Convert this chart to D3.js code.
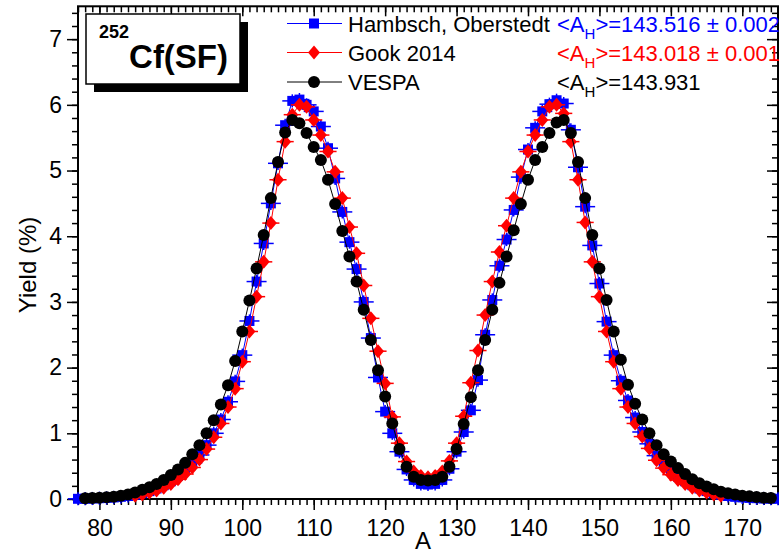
<!DOCTYPE html>
<html><head><meta charset="utf-8">
<script src="https://cdn.jsdelivr.net/npm/d3@7"></script>
<style>
body{margin:0;background:#fff}
svg{display:block}
text{font-family:"Liberation Sans",Arial,Helvetica,sans-serif}
</style>
</head><body>
<svg id="chart" width="779" height="553"></svg>
<script>
// ---------------- data ----------------
const seriesNames = ["Hambsch, Oberstedt", "Gook 2014", "VESPA"];
const meanLabels = ["143.516 \u00b1 0.002", "143.018 \u00b1 0.001", "143.931"];
const xTickLabels = [80, 90, 100, 110, 120, 130, 140, 150, 160, 170];
const yTickLabels = [0, 1, 2, 3, 4, 5, 6, 7];

// mass numbers (A) of each data set
const massHambsch = d3.range(77, 176);
const massGook = d3.range(85, 168);
const massVespa = d3.range(78, 175);

// yields (%)
const yieldHambsch = [
  0.003,0.005,0.008,0.012,0.017,0.024,0.033,0.046,0.064,0.088,   // 77-86
  0.12,0.16,0.21,0.27,0.35,0.44,0.55,0.67,0.82,1.00,              // 87-96
  1.21,1.48,1.79,2.19,2.71,3.31,3.89,4.50,5.11,5.69,              // 97-106
  6.06,6.08,6.00,5.90,5.67,5.34,4.88,4.37,3.91,3.50,              // 107-116
  3.00,2.45,1.85,1.33,1.00,0.72,0.45,0.29,0.23,0.22,              // 117-126
  0.23,0.29,0.46,0.72,1.02,1.35,1.81,2.50,3.03,3.55,              // 127-136
  3.95,4.40,4.90,5.32,5.65,5.90,6.01,6.07,6.02,5.62,              // 137-146
  5.05,4.45,3.86,3.28,2.70,2.19,1.80,1.50,1.24,1.02,              // 147-156
  0.84,0.66,0.54,0.43,0.34,0.27,0.21,0.16,0.12,0.088,             // 157-166
  0.064,0.046,0.033,0.024,0.017,0.012,0.008,0.005,0.003           // 167-175
];
const yieldGook = [
  0.05,0.07,0.10,0.13,0.17,0.23,0.30,0.38,0.48,0.60,              // 85-94
  0.76,0.94,1.15,1.40,1.68,2.09,2.55,3.08,3.61,4.20,              // 95-104
  4.86,5.44,5.85,6.00,5.97,5.77,5.54,5.29,4.98,4.58,              // 105-114
  4.14,3.74,3.25,2.75,2.25,1.76,1.25,0.85,0.57,0.42,              // 115-124
  0.35,0.33,0.35,0.42,0.58,0.85,1.26,1.77,2.26,2.80,              // 125-134
  3.31,3.76,4.16,4.58,4.98,5.29,5.54,5.77,5.97,6.00,              // 135-144
  5.87,5.44,4.86,4.21,3.61,3.08,2.55,2.09,1.68,1.40,              // 145-154
  1.15,0.95,0.77,0.59,0.47,0.37,0.29,0.23,0.17,0.13,              // 155-164
  0.10,0.07,0.05                                                  // 165-167
];
const yieldVespa = [
  0.010,0.015,0.020,0.026,0.035,0.050,0.070,0.100,0.140,0.180,    // 78-87
  0.230,0.290,0.365,0.450,0.550,0.680,0.820,1.000,1.200,1.440,    // 88-97
  1.730,2.100,2.550,3.020,3.510,4.020,4.580,5.130,5.580,5.770,    // 98-107
  5.720,5.570,5.360,5.160,4.860,4.490,4.080,3.690,3.310,2.880,    // 108-117
  2.420,1.960,1.560,1.150,0.760,0.490,0.340,0.290,0.280,0.290,    // 118-127
  0.340,0.490,0.760,1.140,1.550,1.960,2.420,2.880,3.290,3.690,    // 128-137
  4.090,4.490,4.860,5.160,5.360,5.570,5.730,5.770,5.570,5.130,    // 138-147
  4.580,4.020,3.510,3.030,2.550,2.120,1.740,1.450,1.210,1.000,    // 148-157
  0.820,0.680,0.570,0.470,0.380,0.300,0.240,0.190,0.150,0.110,    // 158-167
  0.087,0.070,0.050,0.040,0.030,0.020,0.015                       // 168-174
];
// horizontal / vertical error half-widths
const errHambsch = {dx: 1.4, dy: 0.1};
const errGook = {dx: 1.2, dy: 0.08};

// ---------------- layout ----------------
const svg = d3.select("#chart");
const L = 78, R = 778, T = 6.3, B = 499;
const x = d3.scaleLinear().domain([77, 175]).range([L, R]);
const y = d3.scaleLinear().domain([0, 7.5]).range([B, T]);

const xMinor = d3.range(77, 176);
const yMinor = d3.range(0, 7.5001, 0.2).map(v => +v.toFixed(1));

function styleAxis(g) {
  g.select(".domain").remove();
  g.selectAll(".tick line").attr("stroke", "#000").attr("stroke-width", 1.5);
}
// bottom (outside)
svg.append("g").attr("transform", `translate(0,${B})`)
  .call(d3.axisBottom(x).tickValues(xMinor).tickSize(6).tickFormat("")).call(styleAxis);
svg.append("g").attr("transform", `translate(0,${B})`)
  .call(d3.axisBottom(x).tickValues(xTickLabels).tickSize(11).tickPadding(10).tickFormat(d3.format("d")))
  .call(styleAxis)
  .call(g => g.selectAll("text").attr("font-size", 23).attr("fill", "#000").attr("font-family", "Liberation Sans, Arial, sans-serif"));
// top (inside)
svg.append("g").attr("transform", `translate(0,${T})`)
  .call(d3.axisBottom(x).tickValues(xMinor).tickSize(6).tickFormat("")).call(styleAxis);
svg.append("g").attr("transform", `translate(0,${T})`)
  .call(d3.axisBottom(x).tickValues(xTickLabels).tickSize(10).tickFormat("")).call(styleAxis);
// left (outside)
svg.append("g").attr("transform", `translate(${L},0)`)
  .call(d3.axisLeft(y).tickValues(yMinor).tickSize(6).tickFormat("")).call(styleAxis);
svg.append("g").attr("transform", `translate(${L},0)`)
  .call(d3.axisLeft(y).tickValues(yTickLabels).tickSize(11).tickPadding(5).tickFormat(d3.format("d")))
  .call(styleAxis)
  .call(g => g.selectAll("text").attr("font-size", 23).attr("fill", "#000").attr("font-family", "Liberation Sans, Arial, sans-serif"));
// right (inside)
svg.append("g").attr("transform", `translate(${R},0)`)
  .call(d3.axisLeft(y).tickValues(yMinor).tickSize(6).tickFormat("")).call(styleAxis);
svg.append("g").attr("transform", `translate(${R},0)`)
  .call(d3.axisLeft(y).tickValues(yTickLabels).tickSize(11).tickFormat("")).call(styleAxis);

// frame
svg.append("rect").attr("x", L).attr("y", T).attr("width", R - L).attr("height", B - T)
  .attr("fill", "none").attr("stroke", "#000").attr("stroke-width", 2);

// axis titles
svg.append("text").attr("transform", `translate(36,265) rotate(-90)`)
  .attr("text-anchor", "middle").attr("font-size", 24).text("Yield (%)");
svg.append("text").attr("x", 423).attr("y", 549).attr("text-anchor", "middle")
  .attr("font-size", 24).text("A");

// ---------------- series ----------------
const markerPath = {
  square: "M-5,-5H5V5H-5Z",
  diamond: "M0,-7L6,0L0,7L-6,0Z",
  circle: d3.symbol(d3.symbolCircle, Math.PI * 36)()
};
function drawSeries(masses, yields, color, marker, err) {
  const pts = masses.map((a, i) => ({a, v: yields[i]}));
  const g = svg.append("g");
  g.append("path").datum(pts)
    .attr("d", d3.line().x(d => x(d.a)).y(d => y(d.v)))
    .attr("fill", "none").attr("stroke", color).attr("stroke-width", 1);
  if (err) {
    g.selectAll(".ex").data(pts).join("line")
      .attr("x1", d => x(d.a - err.dx)).attr("x2", d => x(d.a + err.dx))
      .attr("y1", d => y(d.v)).attr("y2", d => y(d.v))
      .attr("stroke", color).attr("stroke-width", 1.5);
    g.selectAll(".ey").data(pts).join("line")
      .attr("x1", d => x(d.a)).attr("x2", d => x(d.a))
      .attr("y1", d => y(d.v - err.dy)).attr("y2", d => y(d.v + err.dy))
      .attr("stroke", color).attr("stroke-width", 1.5);
  }
  g.selectAll(".m").data(pts).join("path")
    .attr("transform", d => `translate(${x(d.a)},${y(d.v)})`)
    .attr("d", markerPath[marker]).attr("fill", color);
}
drawSeries(massHambsch, yieldHambsch, "#0000ff", "square", errHambsch);
drawSeries(massGook, yieldGook, "#ff0000", "diamond", errGook);
drawSeries(massVespa, yieldVespa, "#000000", "circle", null);

// ---------------- label box ----------------
svg.append("rect").attr("x", 94).attr("y", 22).attr("width", 154).attr("height", 70).attr("fill", "#000");
svg.append("rect").attr("x", 86).attr("y", 14).attr("width", 154).attr("height", 70)
  .attr("fill", "#fff").attr("stroke", "#000").attr("stroke-width", 1.5);
const lab = svg.append("text").attr("x", 99).attr("y", 68).attr("font-weight", "bold");
lab.append("tspan").attr("font-size", 18).attr("dy", -30).text("252");
lab.append("tspan").attr("font-size", 33).attr("dy", 30).attr("dx", 0).text("Cf(SF)");

// ---------------- legend ----------------
const legColors = ["#0000ff", "#ff0000", "#000000"];
const legMarkers = ["square", "diamond", "circle"];
const legY = [23.5, 52.5, 82];
seriesNames.forEach((name, i) => {
  svg.append("line").attr("x1", 287).attr("x2", 342).attr("y1", legY[i]).attr("y2", legY[i])
    .attr("stroke", legColors[i]).attr("stroke-width", 1);
  svg.append("path").attr("transform", `translate(314,${legY[i]})`)
    .attr("d", markerPath[legMarkers[i]]).attr("fill", legColors[i]);
  svg.append("text").attr("x", 348).attr("y", legY[i] + 8).attr("font-size", 22).text(name);
  const t = svg.append("text").attr("x", 557).attr("y", legY[i] + 8).attr("font-size", 22).attr("fill", legColors[i]);
  t.append("tspan").text("<A");
  t.append("tspan").attr("font-size", 15).attr("dy", 7).text("H");
  t.append("tspan").attr("dy", -7).text(">=" + meanLabels[i]);
});
</script>
</body></html>
